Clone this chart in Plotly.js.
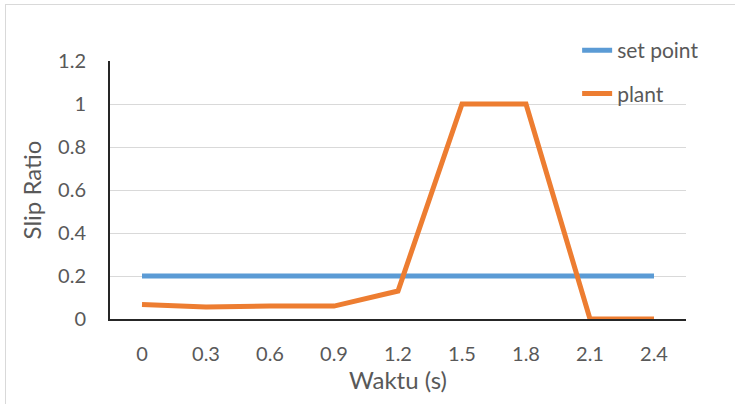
<!DOCTYPE html>
<html>
<head>
<meta charset="utf-8">
<script src="https://cdn.plot.ly/plotly-3.0.1.min.js"></script>
<style>
  body { margin: 0; background: #fff; }
  #wrap { position: relative; width: 735px; height: 404px; overflow: hidden; }
  #chart { width: 735px; height: 404px; }
  #frame { position: absolute; left: 5px; top: 4px; width: 760px; height: 420px; border: 1px solid #d9d9d9; pointer-events: none; }
</style>
</head>
<body>
<div id="wrap">
  <div id="chart"></div>
  <div id="frame"></div>
</div>
<script>
const categories = ["0", "0.3", "0.6", "0.9", "1.2", "1.5", "1.8", "2.1", "2.4"];
const setPoint = [0.2, 0.2, 0.2, 0.2, 0.2, 0.2, 0.2, 0.2, 0.2];
const plant = [0.067, 0.056, 0.06, 0.06, 0.13, 1, 1, 0, 0];
const yTicks = [0, 0.2, 0.4, 0.6, 0.8, 1, 1.2];
const yTickText = ["0", "0.2", "0.4", "0.6", "0.8", "1", "1.2"];

const fontFamily = "Lato, 'Open Sans', sans-serif";

const traces = [
  { x: categories, y: setPoint, type: "scatter", mode: "lines", name: "set point",
    legendgroup: "a", line: { color: "#5B9BD5", width: 5 } },
  { x: categories, y: plant, type: "scatter", mode: "lines", name: "plant",
    legendgroup: "b", line: { color: "#ED7D31", width: 5 } }
];

const layout = {
  width: 735, height: 404,
  margin: { l: 110, r: 49, t: 61, b: 85 },
  paper_bgcolor: "#fff", plot_bgcolor: "#fff",
  font: { family: fontFamily, color: "#595959", size: 20 },
  showlegend: true,
  legend: { x: 0.811, y: 1.12, xanchor: "left", yanchor: "top",
    font: { size: 21, color: "#595959" }, tracegroupgap: 13, bgcolor: "rgba(0,0,0,0)" },
  xaxis: {
    type: "category", range: [-0.5, 8.5],
    showline: true, linecolor: "#262626", linewidth: 2,
    showgrid: false, ticks: "", ticklabelstandoff: 16,
    tickfont: { size: 20, color: "#595959" },
    title: { text: "Waktu (s)", font: { size: 24, color: "#595959" }, standoff: 7 },
    fixedrange: true
  },
  yaxis: {
    range: [0, 1.2], tickvals: yTicks, ticktext: yTickText,
    showline: true, linecolor: "#262626", linewidth: 2,
    showgrid: true, gridcolor: "#d9d9d9", gridwidth: 1,
    zeroline: false, ticks: "", ticklabelstandoff: 18,
    tickfont: { size: 20, color: "#595959" },
    title: { text: "Slip Ratio", font: { size: 24, color: "#595959" }, standoff: 10 },
    fixedrange: true
  }
};

Plotly.newPlot("chart", traces, layout, { displayModeBar: false, staticPlot: true });
</script>
</body>
</html>
